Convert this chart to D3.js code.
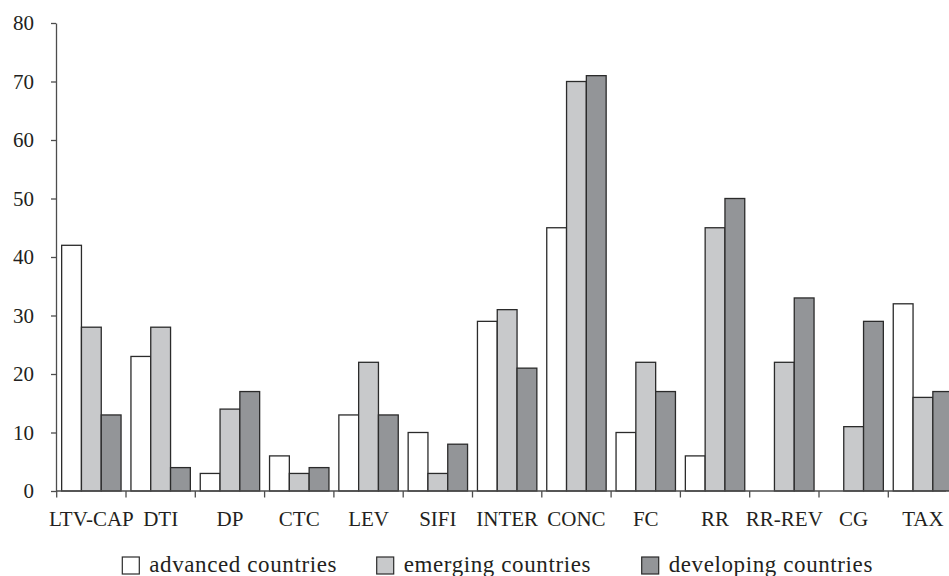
<!DOCTYPE html>
<html><head><meta charset="utf-8">
<script src="https://cdn.jsdelivr.net/npm/d3@7"></script>
<style>
html,body{margin:0;padding:0;background:#fff;}
</style></head>
<body><svg id="chart" width="949" height="576"></svg>
<script>
const categories = ["LTV-CAP","DTI","DP","CTC","LEV","SIFI","INTER","CONC","FC","RR","RR-REV","CG","TAX"];
const seriesNames = ["advanced countries","emerging countries","developing countries"];
const advanced   = [42,23,3,6,13,10,29,45,10,6,0,0,32];
const emerging   = [28,28,14,3,22,3,31,70,22,45,22,11,16];
const developing = [13,4,17,4,13,8,21,71,17,50,33,29,17];
const yTicks = [0,10,20,30,40,50,60,70,80];
const colors = ["#ffffff","#c8c9cb","#939598"];
const FONT = "'Liberation Serif', 'Times New Roman', Times, serif";

const seriesValues = [advanced, emerging, developing];
const svg = d3.select("#chart");
const x0 = d3.scaleBand().domain(categories).range([56.7, 957.6]).paddingInner(0).paddingOuter(0);
const x1 = d3.scaleBand().domain(seriesNames).range([0, x0.bandwidth()]).paddingInner(0).paddingOuter(0.25);
const y = d3.scaleLinear().domain([0,80]).range([491,23]);

// bars
const g = svg.append("g");
categories.forEach((c, ci) => {
  seriesNames.forEach((s, si) => {
    const v = seriesValues[si][ci];
    if (v <= 0) return;
    g.append("rect")
      .attr("x", x0(c) + x1(s))
      .attr("y", y(v))
      .attr("width", x1.bandwidth())
      .attr("height", y(0) - y(v))
      .attr("fill", colors[si])
      .attr("stroke", "#2b2b2b")
      .attr("stroke-width", 1.3);
  });
});

// y axis
const yAxis = d3.axisLeft(y).tickValues(yTicks).tickSize(5).tickPadding(17).tickSizeOuter(0);
const gy = svg.append("g").attr("transform","translate(56,0)").call(yAxis)
  .attr("font-family", FONT).attr("font-size", 21);
gy.select(".domain").attr("stroke","#4d4d4d").attr("stroke-width",1.3);
gy.selectAll(".tick line").attr("stroke","#4d4d4d").attr("stroke-width",1.3);
gy.selectAll(".tick text").attr("dy","0.32em").attr("fill","#231f20");

// x axis
const xTickPos = d3.range(categories.length + 1).map(i => x0.range()[0] + i * x0.step());
const gx = svg.append("g");
gx.append("line").attr("x1",56).attr("x2",946).attr("y1",y(0)).attr("y2",y(0))
  .attr("stroke","#4d4d4d").attr("stroke-width",1.3);
gx.selectAll("line.tk").data(xTickPos).join("line").attr("class","tk")
  .attr("x1",d=>d).attr("x2",d=>d).attr("y1",y(0)).attr("y2",y(0)+6.5)
  .attr("stroke","#4d4d4d").attr("stroke-width",1.3);
gx.selectAll("text").data(categories).join("text")
  .attr("x", d => x0(d) + x0.bandwidth()/2)
  .attr("y", 526)
  .attr("text-anchor","middle")
  .attr("font-family", FONT)
  .attr("font-size", 21)
  .attr("fill","#231f20")
  .text(d => d);

// legend
const legendX = [122.3, 376.7, 641.7];
const lg = svg.append("g");
seriesNames.forEach((s, i) => {
  lg.append("rect").attr("x", legendX[i]).attr("y", 557).attr("width", 17).attr("height", 17)
    .attr("fill", colors[i]).attr("stroke","#2b2b2b").attr("stroke-width",1.2);
  lg.append("text").attr("x", legendX[i] + 27).attr("y", 572)
    .attr("font-family", FONT)
    .attr("font-size", 23).attr("letter-spacing","0.6px").attr("fill","#231f20").text(s);
});
</script></body></html>
